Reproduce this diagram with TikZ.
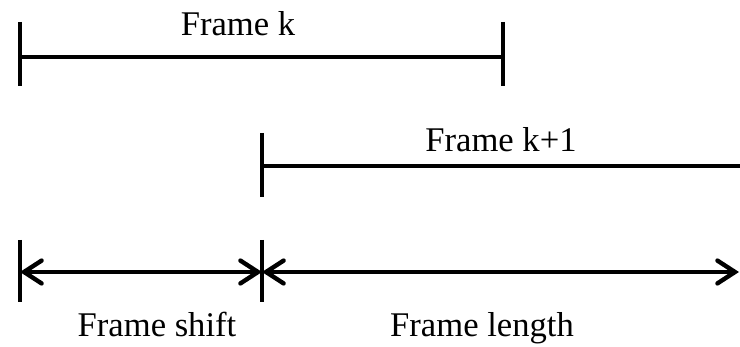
\documentclass[tikz,border=0pt]{standalone}
\usepackage{fontspec}
\setmainfont{Liberation Serif}
\usetikzlibrary{arrows.meta,positioning}

\begin{document}
\begin{tikzpicture}[x=0.02cm,y=-0.02cm,line width=2.5pt,
                    >={Straight Barb[length=10pt,width=13pt,line cap=round]}]
  \tikzstyle{bar}=[draw,line width=2.5pt]
  \tikzstyle{caption}=[anchor=base,inner sep=0pt,font=\fontsize{19.7}{23}\selectfont]

  \useasboundingbox (0,0) rectangle (740,347);

  % frame k
  \coordinate (k0) at (20,57);
  \coordinate (k1) at (503,57);
  % frame k+1
  \coordinate (n0) at (262,166);
  \coordinate (n1) at (740,166);
  % shift and length
  \coordinate (s0) at (20,272);
  \coordinate (s1) at (262,272);
  \coordinate (s2) at (739,272);

  \node[caption] (fk)  at (238,36)  {Frame k};
  \node[caption] (fk1) at (501,152) {Frame k+1};
  \node[caption] (fs)  at (157,337) {Frame shift};
  \node[caption] (fl)  at (482,337) {Frame length};

  \path[bar] (k0) -- (k1);
  \path[bar] (k0) ++(0,-35) -- ++(0,64);
  \path[bar] (k1) ++(0,-35) -- ++(0,64);

  \path[bar] (n0) -- (n1);
  \path[bar] (n0) ++(0,-33) -- ++(0,64);

  \path[bar] (s0) ++(0,-32) -- ++(0,62);
  \path[bar] (s1) ++(0,-32) -- ++(0,62);
  \path[bar,<->] (s0) -- (s1);
  \path[bar,<->] (s1) -- (s2);
\end{tikzpicture}
\end{document}
